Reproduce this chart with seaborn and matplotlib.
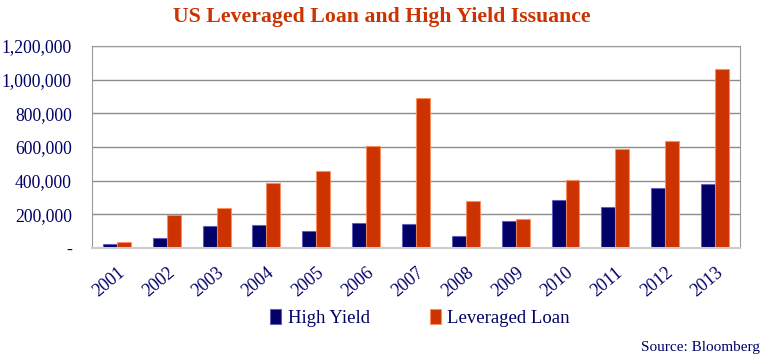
import pandas as pd
import seaborn as sns
import matplotlib.pyplot as plt
from matplotlib.ticker import FuncFormatter
from matplotlib.transforms import ScaledTranslation

years = ["2001", "2002", "2003", "2004", "2005", "2006", "2007",
         "2008", "2009", "2010", "2011", "2012", "2013"]
high_yield = [22000, 58000, 131000, 136000, 101000, 149000, 145000,
              72000, 160000, 287000, 244000, 356000, 380000]
leveraged_loan = [34000, 199000, 239000, 386000, 459000, 608000, 893000,
                  278000, 170000, 404000, 590000, 636000, 1065000]

df = pd.DataFrame({
    "Year": years * 2,
    "Value": high_yield + leveraged_loan,
    "Series": ["High Yield"] * len(years) + ["Leveraged Loan"] * len(years),
})

navy = "#000066"
orange = "#CC3300"

sns.set_style("white")
plt.rcParams["font.family"] = ["Liberation Serif", "DejaVu Serif"]

fig = plt.figure(figsize=(7.64, 3.59), dpi=100)
ax = fig.add_axes([0.1204, 0.309, 0.8482, 0.563])

sns.barplot(data=df, x="Year", y="Value", hue="Series",
            palette={"High Yield": navy, "Leveraged Loan": orange},
            width=0.56, saturation=1, ax=ax, legend=True)

# faint lighter outline on each bar, as in the original
for bar in ax.patches:
    fc = bar.get_facecolor()
    bar.set_edgecolor((min(fc[0] + 0.35, 1), min(fc[1] + 0.35, 1), min(fc[2] + 0.35, 1), 0.8))
    bar.set_linewidth(0.8)

ax.set_ylim(0, 1200000)
ax.set_yticks(range(0, 1200001, 200000))
ax.yaxis.set_major_formatter(FuncFormatter(lambda v, p: "-" if v == 0 else f"{int(v):,}"))
ax.yaxis.grid(True, color="#8c8c8c", linewidth=1)
ax.set_axisbelow(True)
ax.set_xlabel("")
ax.set_ylabel("")
ax.tick_params(axis="y", colors=navy, labelsize=12.7, length=0, pad=14.4)
ax.tick_params(axis="x", colors=navy, labelsize=13, length=0, pad=16)
shift = ScaledTranslation(4 / 72, 0, fig.dpi_scale_trans)
for lbl in ax.get_xticklabels():
    lbl.set_rotation(40)
    lbl.set_ha("right")
    lbl.set_va("center")
    lbl.set_rotation_mode("anchor")
    lbl.set_transform(lbl.get_transform() + shift)
for s in ["left", "right", "top"]:
    ax.spines[s].set_color("#999999")
ax.spines["bottom"].set_color("#cccccc")
ax.spines["bottom"].set_linewidth(1.5)

ax.legend(loc="center", bbox_to_anchor=(0.506, -0.346), ncol=2,
          frameon=False, fontsize=13.5, handlelength=0.6, handleheight=0.9,
          columnspacing=3.2, handletextpad=0.35, labelcolor=navy)

fig.text(0.5, 0.953, "US Leveraged Loan and High Yield Issuance",
         ha="center", va="center", color=orange, fontsize=15.7, fontweight="bold")
fig.text(0.995, 0.033, "Source: Bloomberg", ha="right", va="center",
         color=navy, fontsize=11)

fig.savefig("out.png", dpi=100)
